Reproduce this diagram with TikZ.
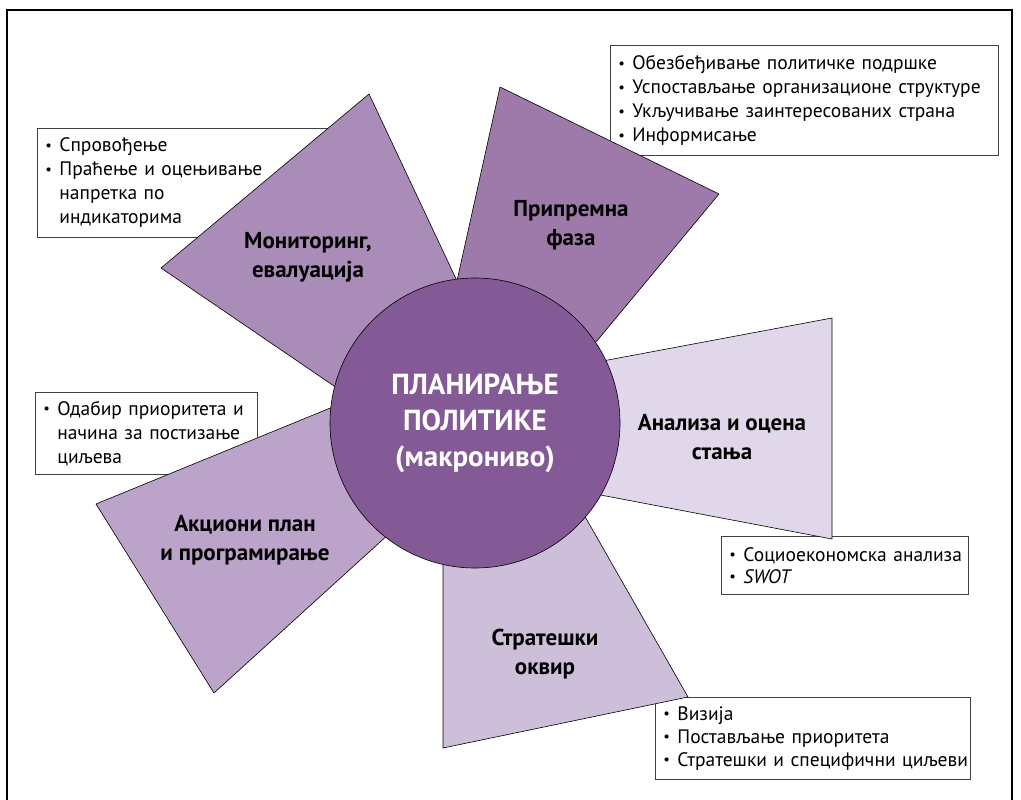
\documentclass[tikz,border=0pt]{standalone}
\usepackage{fontspec}
\setmainfont{PT Sans}
\definecolor{pcore}{RGB}{132,90,150}
\definecolor{pmon}{RGB}{169,141,184}
\definecolor{pprep}{RGB}{158,122,171}
\definecolor{pana}{RGB}{224,216,234}
\definecolor{pstr}{RGB}{205,190,217}
\definecolor{pact}{RGB}{187,163,201}
\newcommand{\lbul}{\makebox[14pt][l]{\raisebox{1.5pt}{\scalebox{0.75}{•}}}}
\newcommand{\litem}[1]{\mbox{\lbul #1}}
\newcommand{\lmore}[1]{\mbox{\hspace*{14pt}#1}}
\tikzset{
  petal/.style={draw=black,line width=0.6pt},
  petallabel/.style={font=\bfseries\fontsize{23}{29}\selectfont,align=center,inner sep=0pt},
  listbox/.style={draw=black!75,line width=0.8pt,fill=white,anchor=north west,align=left,
    inner xsep=8pt,inner ysep=0pt,font=\fontsize{19.5}{24}\selectfont},
}

\begin{document}
\begin{tikzpicture}[x=1pt,y=-1pt]
  \useasboundingbox (0,0) rectangle (1021,800);
  \draw[line width=1.4pt] (7,800) -- (7,10) -- (1012,10) -- (1012,800);
  % lists
  \node[listbox,text width=372,minimum height=110] (prepbox) at (610,45)
    {\litem{Обезбеђивање политичке подршке}\\\litem{Успостављање организационе структуре}\\
     \litem{Укључивање заинтересованих страна}\\\litem{Информисање}};
  \node[listbox,text width=294,minimum height=109] (monbox) at (37,128)
    {\litem{Спровођење}\\\litem{Праћење и оцењивање}\\\lmore{напретка по}\\\lmore{индикаторима}};
  \node[listbox,text width=206,minimum height=82] (actbox) at (35,392)
    {\litem{Одабир приоритета и}\\\lmore{начина за постизање}\\\lmore{циљева}};
  \node[listbox,text width=231,minimum height=58,font=\fontsize{19.5}{22}\selectfont] (anabox) at (721,536)
    {\litem{Социоекономска анализа}\\\litem{\textit{SWOT}}};
  \node[listbox,text width=299,minimum height=82,font=\fontsize{19.5}{23}\selectfont] (strbox) at (655,697)
    {\litem{Визија}\\\litem{Постављање приоритета}\\\litem{Стратешки и специфични циљеви}};
  % petals
  \filldraw[petal,fill=pmon]  (369,94) -- (161,268) -- (419,444) -- (498,368) -- cycle;
  \filldraw[petal,fill=pprep] (500,87) -- (719,194) -- (537,413) -- (441,353) -- cycle;
  \filldraw[petal,fill=pana]  (832,318) -- (832,539) -- (490,474) -- (496,381) -- cycle;
  \filldraw[petal,fill=pstr]  (688,697) -- (443,748) -- (443,450) -- (547,450) -- cycle;
  \filldraw[petal,fill=pact]  (96,504) -- (214,693) -- (467,463) -- (445,361) -- cycle;
  \node[circle,petal,fill=pcore,minimum size=290,inner sep=0pt,text=white,align=center,
    font=\bfseries\fontsize{29}{36}\selectfont] (core) at (475,423)
    {ПЛАНИРАЊЕ\\ПОЛИТИКЕ\\(макрониво)};
  \node[petallabel] (monlbl)  at (308,257) {Мониторинг,\\евалуација};
  \node[petallabel] (preplbl) at (571,225) {Припремна\\фаза};
  \node[petallabel] (analbl)  at (722,437) {Анализа и оцена\\стања};
  \node[petallabel] (strlbl)  at (545,654) {Стратешки\\оквир};
  \node[petallabel] (actlbl)  at (245,540) {Акциони план\\и програмирање};
\end{tikzpicture}
\end{document}
